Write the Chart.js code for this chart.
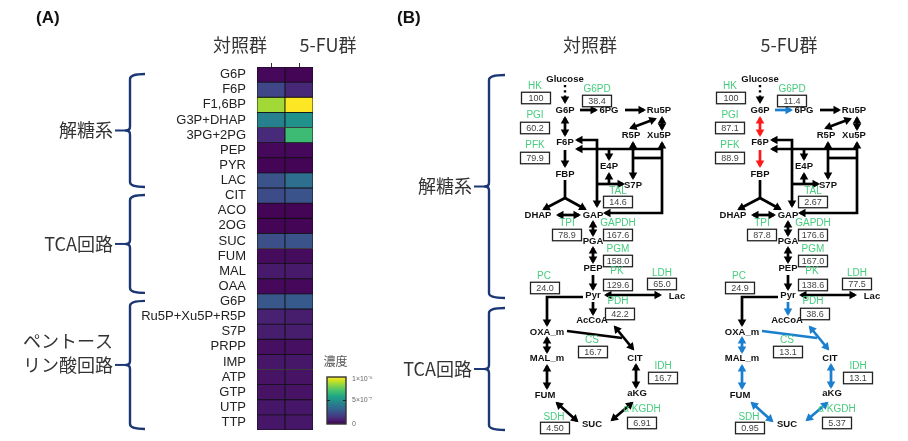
<!DOCTYPE html>
<html><head><meta charset="utf-8">
<script src="https://cdn.jsdelivr.net/npm/chart.js@4.4.1/dist/chart.umd.min.js"></script>
<style>
html,body{margin:0;padding:0;background:#fff;width:908px;height:441px;overflow:hidden}
#wa{position:absolute;left:0;top:0;width:380px;height:441px}
#wb{position:absolute;left:380px;top:0;width:528px;height:441px}
</style></head><body>
<div id="wa"><canvas id="ca"></canvas></div>
<div id="wb"><canvas id="cb"></canvas></div>
<script>
// ================= DATA =================
const groups = ['対照群', '5-FU群'];
const metabolites = ['G6P','F6P','F1,6BP','G3P+DHAP','3PG+2PG','PEP','PYR','LAC',
  'CIT','ACO','2OG','SUC','FUM','MAL','OAA',
  'G6P','Ru5P+Xu5P+R5P','S7P','PRPP','IMP','ATP','GTP','UTP','TTP'];
const concControl = [2e-8,2.1e-7,8.6e-7,4.3e-7,1.2e-7,2e-8,1e-8,2.5e-7,
  2.3e-7,1e-8,1e-8,2.4e-7,3e-8,7e-8,2e-8,
  2.7e-7,9e-8,8e-8,4e-8,6e-8,5e-8,5e-8,6e-8,6e-8];
const concFU = [1e-8,1.1e-7,1.0e-6,5.0e-7,6.8e-7,2e-8,1e-8,3.6e-7,
  2.6e-7,1e-8,1e-8,2.6e-7,3e-8,7e-8,2e-8,
  2.8e-7,8e-8,8e-8,4e-8,6e-8,5e-8,5e-8,6e-8,6e-8];
const concMax = 1e-6;
const colorbarTitle = '濃度';
const colorbarTickValues = [1e-6, 5e-7, 0];
const colorbarTickLabels = ['1×10⁻⁶', '5×10⁻⁷', '0'];
const pathwayNamesA = [['解糖系'], ['TCA回路'], ['ペントース', 'リン酸回路']];
const pathwayRowStart = [0, 8, 15];
const pathwayRowEnd = [7, 14, 23];
const pathwayNamesB = ['解糖系', 'TCA回路'];

const enzymes = ['HK','G6PD','PGI','PFK','TAL','TPI','GAPDH','PGM','PK','LDH','PC','PDH','CS','IDH','α KGDH','SDH'];
const fluxControl = [100, 38.4, 60.2, 79.9, 14.6, 78.9, 167.6, 158.0, 129.6, 65.0, 24.0, 42.2, 16.7, 16.7, 6.91, 4.50];
const fluxFU      = [100, 11.4, 87.1, 88.9, 2.67, 87.8, 176.6, 167.0, 138.6, 77.5, 24.9, 38.6, 13.1, 13.1, 5.37, 0.95];
const nodes = ['Glucose','G6P','6PG','Ru5P','R5P','Xu5P','F6P','E4P','FBP','S7P','DHAP','GAP','PGA','PEP','Pyr','Lac','AcCoA','OXA_m','MAL_m','CIT','FUM','aKG','SUC'];
const fuUp = ['g6p_f6p','f6p_fbp'];
const fuDown = ['g6p_6pg','pdh','cs_oxa','cs_cit','oxa_mal','mal_fum','fum_suc','suc_akg','akg_cit'];

// ================= LAYOUT / STYLE =================
const LAT = '"Liberation Sans", Arial, sans-serif';
const JP = '"Noto Sans CJK JP", "Noto Sans", sans-serif';
const NAVY = '#1c3775';
const GREEN = '#45cc7e';
const BLUE = '#1b7fd0';
const RED = '#ff1a1a';
const PANEL_DX = [0, 195];
const NODE_POS = [[565,79],[565,110],[609,110],[659,110],[631,135],[659,135],[565,142],[609,166],[565,174],[633,185],
  [538,215],[593,215],[593,241],[593,268],[593,295],[677,296],[592,320],[547,332],[547,358],[635,358],[545,395],[637,393],[592,424]];
const ENZ_POS = [[535,86,536,98],[597,89,597,101],[535,115,535,128],[535,145,535,158],[618,191,618,202],[567,223,567,235],
  [618,223,618,235],[618,249,618,261],[617,271,618,285],[662,273,662,284],[544,276,545,288],[618,301,620,314],
  [592,340,593,352],[663,366,663,378],[642,409,642,423],[554,417,555,428]];
const ARROWS = [
  {id:'glc', pts:[[565,85],[565,102]], head:'end', dash:true},
  {id:'g6p_6pg', pts:[[580,110],[596,110]], head:'end'},
  {id:'6pg_ru5p', pts:[[625,110],[644,110]], head:'end'},
  {id:'r5p_ru5p', pts:[[631,128],[655,119]], head:'both'},
  {id:'ru5p_xu5p', pts:[[662,118],[662,129]], head:'both'},
  {id:'g6p_f6p', pts:[[565,118],[565,135]], head:'both'},
  {id:'f6p_fbp', pts:[[565,150],[565,166]], head:'end'},
  {id:'tal_v', pts:[[597,206],[597,140],[577,140]], head:'both'},
  {id:'tal_s7p', pts:[[597,184],[623,184]], head:'end'},
  {id:'e4p_up', pts:[[609,184],[609,174]], head:'end'},
  {id:'tk_h', pts:[[662,149],[577,149]], head:'end'},
  {id:'e4p_down', pts:[[609,149],[609,159]], head:'end'},
  {id:'tk_h2', pts:[[633,158],[662,158]], head:'none'},
  {id:'r5p_v', pts:[[633,143],[633,178]], head:'both'},
  {id:'xu5p_v', pts:[[662,143],[662,213],[605,213]], head:'both'},
  {id:'fbp_stem', pts:[[565,180],[565,198]], head:'none'},
  {id:'fbp_dhap', pts:[[565,198],[544,209]], head:'end'},
  {id:'fbp_gap', pts:[[565,198],[585,209]], head:'end'},
  {id:'dhap_gap', pts:[[558,215],[579,215]], head:'both'},
  {id:'gap_pga', pts:[[593,222],[593,235]], head:'both'},
  {id:'pga_pep', pts:[[593,248],[593,262]], head:'both'},
  {id:'pep_pyr', pts:[[593,275],[593,289]], head:'end'},
  {id:'pyr_lac', pts:[[606,295],[660,295]], head:'both'},
  {id:'pc', pts:[[583,297],[547,297],[547,325]], head:'end'},
  {id:'pdh', pts:[[593,302],[593,314]], head:'end'},
  {id:'cs_oxa', pts:[[567,331],[622,338]], head:'none'},
  {id:'cs_cit', pts:[[615,327],[633,349]], head:'both'},
  {id:'oxa_mal', pts:[[547,338],[547,352]], head:'both'},
  {id:'mal_fum', pts:[[547,366],[547,388]], head:'both'},
  {id:'fum_suc', pts:[[557,403],[577,421]], head:'both'},
  {id:'suc_akg', pts:[[612,420],[632,403]], head:'both'},
  {id:'akg_cit', pts:[[636,365],[636,387]], head:'both'}
];

// ================= HELPERS =================
const VIR = ['#440154','#482475','#414487','#355f8d','#2a788e','#21918c','#22a884','#44bf70','#7ad151','#bddf26','#fde725'];
function hex2rgb(h){return [parseInt(h.substr(1,2),16),parseInt(h.substr(3,2),16),parseInt(h.substr(5,2),16)];}
function viridis(t){
  t = Math.max(0, Math.min(1, t));
  const s = t * 10, i = Math.min(9, Math.floor(s)), f = s - i;
  const a = hex2rgb(VIR[i]), b = hex2rgb(VIR[i+1]);
  return 'rgb(' + a.map((v,k)=>Math.round(v + (b[k]-v)*f)).join(',') + ')';
}
function drawBrace(ctx, x, yTop, yBot, yMid, hook, stubTo){
  ctx.save();
  ctx.strokeStyle = NAVY; ctx.lineWidth = 2.4; ctx.lineCap = 'butt'; ctx.lineJoin = 'round';
  const r = 5;
  ctx.beginPath();
  ctx.moveTo(x + hook, yTop);
  ctx.quadraticCurveTo(x, yTop, x, yTop + r);
  ctx.lineTo(x, yMid - 4);
  ctx.quadraticCurveTo(x, yMid, x - 4, yMid);
  ctx.quadraticCurveTo(x, yMid, x, yMid + 4);
  ctx.lineTo(x, yBot - r);
  ctx.quadraticCurveTo(x, yBot, x + hook, yBot);
  ctx.stroke();
  ctx.beginPath(); ctx.lineWidth = 2;
  ctx.moveTo(x - 3, yMid); ctx.lineTo(stubTo, yMid); ctx.stroke();
  ctx.restore();
}

// ================= PANEL A : heatmap =================
const heatDatasets = metabolites.map((m, i) => ({
  label: m,
  data: [1, 1],
  backgroundColor: [viridis(concControl[i] / concMax), viridis(concFU[i] / concMax)],
  borderColor: '#111', borderWidth: 0.8, borderSkipped: false,
  barPercentage: 1, categoryPercentage: 1
}));

const panelAPlugin = {
  id: 'panelA',
  afterDraw(chart){
    const ctx = chart.ctx, ys = chart.scales.y, xs = chart.scales.x, ca = chart.chartArea;
    ctx.save();
    ctx.fillStyle = '#111'; ctx.font = 'bold 17px ' + LAT; ctx.textAlign = 'left'; ctx.textBaseline = 'middle';
    ctx.fillText('(A)', 36, 18);
    ctx.fillStyle = '#333'; ctx.font = '18px ' + JP; ctx.textAlign = 'center';
    ctx.fillText(groups[0], xs.getPixelForValue(0) - 31, 45);
    ctx.fillText(groups[1], xs.getPixelForValue(1) + 29, 45);
    // braces
    pathwayNamesA.forEach((lines, k) => {
      const yT = ys.getPixelForValue(pathwayRowStart[k]) + 7;
      const yB = ys.getPixelForValue(pathwayRowEnd[k] + 1) - 1;
      const yM = (yT + yB) / 2;
      drawBrace(ctx, 130, yT, yB, yM, 15, 115);
      ctx.fillStyle = '#333'; ctx.font = '18px ' + JP; ctx.textAlign = 'right'; ctx.textBaseline = 'middle';
      lines.forEach((ln, j) => ctx.fillText(ln, 113, yM - (lines.length - 1 - j) * 24));
    });
    // colorbar
    const cx0 = ca.right + 14, cx1 = ca.right + 33, cy0 = 377, cy1 = 424;
    const g = ctx.createLinearGradient(0, cy1, 0, cy0);
    for (let i = 0; i <= 10; i++) g.addColorStop(i / 10, viridis(i / 10));
    ctx.fillStyle = g; ctx.fillRect(cx0, cy0, cx1 - cx0, cy1 - cy0);
    ctx.strokeStyle = '#333'; ctx.lineWidth = 1.4; ctx.strokeRect(cx0, cy0, cx1 - cx0, cy1 - cy0);
    ctx.fillStyle = '#555'; ctx.font = '12px ' + JP; ctx.textAlign = 'center';
    ctx.fillText(colorbarTitle, (cx0 + cx1) / 2 - 1, 361);
    ctx.font = '7px ' + LAT; ctx.textAlign = 'left';
    colorbarTickValues.forEach((v, i) => {
      const y = cy1 - (v / concMax) * (cy1 - cy0);
      if (v > 0 && v < concMax) {
        ctx.strokeStyle = '#222'; ctx.lineWidth = 1.2;
        ctx.beginPath(); ctx.moveTo(cx0, y); ctx.lineTo(cx0 + 3, y); ctx.moveTo(cx1, y); ctx.lineTo(cx1 - 3, y); ctx.stroke();
      }
      ctx.fillStyle = '#666';
      ctx.fillText(colorbarTickLabels[i], cx1 + 6, Math.max(cy0 + 2, Math.min(cy1 + 1, y)));
    });
    ctx.restore();
  }
};

new Chart(document.getElementById('ca'), {
  type: 'bar',
  data: { labels: groups, datasets: heatDatasets },
  options: {
    responsive: true, maintainAspectRatio: false, animation: false,
    layout: { padding: { left: 107, right: 67, top: 63, bottom: 11 } },
    plugins: { legend: { display: false }, tooltip: { enabled: false } },
    scales: {
      x: { stacked: true, position: 'top', offset: true,
           ticks: { display: false },
           grid: { display: true, offset: false, drawOnChartArea: false, drawTicks: true, tickLength: 4, color: '#333', lineWidth: 1 },
           border: { display: false } },
      y: { stacked: true, min: 0, max: 24, reverse: true,
           afterBuildTicks: s => { s.ticks = metabolites.map((_, i) => ({ value: i + 0.5 })); },
           afterFit: s => { s.width = 150; },
           ticks: { autoSkip: false, padding: 3, color: '#222', font: { family: LAT, size: 13 },
                    callback: (v, i) => metabolites[i] },
           grid: { display: false }, border: { display: false } }
    }
  },
  plugins: [panelAPlugin]
});

// ================= PANEL B : flux maps =================
function arrowColor(id, panel){
  if (panel === 0) return '#000';
  if (fuUp.includes(id)) return RED;
  if (fuDown.includes(id)) return BLUE;
  return '#000';
}
const flowDatasets = [];
PANEL_DX.forEach((dx, p) => {
  ARROWS.forEach(a => {
    flowDatasets.push({
      type: 'scatter', showLine: true,
      data: a.pts.map(([x, y]) => ({ x: x + dx, y: y })),
      borderColor: arrowColor(a.id, p), backgroundColor: arrowColor(a.id, p),
      borderWidth: a.dash ? 2.4 : 2.7, borderDash: a.dash ? [2.2, 3] : [],
      pointRadius: 0, pointHoverRadius: 0, tension: 0, fill: false, clip: false,
      borderCapStyle: 'butt', borderJoinStyle: 'miter',
      head: a.head
    });
  });
});

function arrowHead(ctx, from, to, color){
  const ang = Math.atan2(to.y - from.y, to.x - from.x);
  const L = 7.5, W = 4.3, ext = 2;
  const tx = to.x + Math.cos(ang) * ext, ty = to.y + Math.sin(ang) * ext;
  ctx.fillStyle = color;
  ctx.beginPath();
  ctx.moveTo(tx, ty);
  ctx.lineTo(tx - L * Math.cos(ang) + W * Math.sin(ang), ty - L * Math.sin(ang) - W * Math.cos(ang));
  ctx.lineTo(tx - L * Math.cos(ang) - W * Math.sin(ang), ty - L * Math.sin(ang) + W * Math.cos(ang));
  ctx.closePath(); ctx.fill();
}
function fmtFlux(v, name){
  if (name === 'HK') return String(v);
  return v < 10 ? v.toFixed(2) : v.toFixed(1);
}

const panelBPlugin = {
  id: 'panelB',
  afterDatasetsDraw(chart){
    const ctx = chart.ctx, xs = chart.scales.x, ys = chart.scales.y;
    const X = v => xs.getPixelForValue(v), Y = v => ys.getPixelForValue(v);
    ctx.save();
    chart.data.datasets.forEach((ds, i) => {
      const pts = chart.getDatasetMeta(i).data, n = pts.length;
      if (ds.head === 'end' || ds.head === 'both') arrowHead(ctx, pts[n - 2], pts[n - 1], ds.borderColor);
      if (ds.head === 'start' || ds.head === 'both') arrowHead(ctx, pts[1], pts[0], ds.borderColor);
    });
    ctx.fillStyle = '#111'; ctx.font = 'bold 17px ' + LAT; ctx.textAlign = 'left'; ctx.textBaseline = 'middle';
    ctx.fillText('(B)', X(397), Y(18));
    ctx.fillStyle = '#333'; ctx.font = '18px ' + JP; ctx.textAlign = 'center';
    ctx.fillText(groups[0], X(590), Y(45));
    ctx.fillText(groups[1], X(789), Y(45));
    // braces
    const bT = [75, 308], bB = [298, 430];
    pathwayNamesB.forEach((nm, k) => {
      const yM = (Y(bT[k]) + Y(bB[k])) / 2;
      drawBrace(ctx, X(489), Y(bT[k]), Y(bB[k]), yM, 16, X(474));
      ctx.fillStyle = '#333'; ctx.font = '18px ' + JP; ctx.textAlign = 'right'; ctx.textBaseline = 'middle';
      ctx.fillText(nm, X(472), yM);
    });
    PANEL_DX.forEach((dx, p) => {
      const flux = p === 0 ? fluxControl : fluxFU;
      ctx.textAlign = 'center'; ctx.textBaseline = 'middle';
      ctx.font = 'bold 9.5px ' + LAT; ctx.fillStyle = '#111';
      nodes.forEach((nm, i) => ctx.fillText(nm, X(NODE_POS[i][0] + dx), Y(NODE_POS[i][1])));
      enzymes.forEach((nm, i) => {
        const [lx, ly, bx, by] = ENZ_POS[i];
        ctx.font = '10px ' + LAT; ctx.fillStyle = GREEN;
        ctx.fillText(nm, X(lx + dx), Y(ly));
        const w = 29, h = 11.5;
        const x0 = X(bx + dx) - w / 2, y0 = Y(by) - h / 2;
        ctx.fillStyle = '#fff'; ctx.fillRect(x0, y0, w, h);
        ctx.strokeStyle = '#222'; ctx.lineWidth = 1.3; ctx.strokeRect(x0, y0, w, h);
        ctx.fillStyle = '#444'; ctx.font = '9px ' + LAT;
        ctx.fillText(fmtFlux(flux[i], nm), X(bx + dx), Y(by) + 0.5);
      });
    });
    ctx.restore();
  }
};

new Chart(document.getElementById('cb'), {
  type: 'scatter',
  data: { datasets: flowDatasets },
  options: {
    responsive: true, maintainAspectRatio: false, animation: false,
    layout: { padding: 0 },
    plugins: { legend: { display: false }, tooltip: { enabled: false } },
    events: [],
    scales: {
      x: { type: 'linear', min: 380, max: 908, display: false },
      y: { type: 'linear', min: 0, max: 441, reverse: true, display: false }
    }
  },
  plugins: [panelBPlugin]
});
</script>
</body></html>
